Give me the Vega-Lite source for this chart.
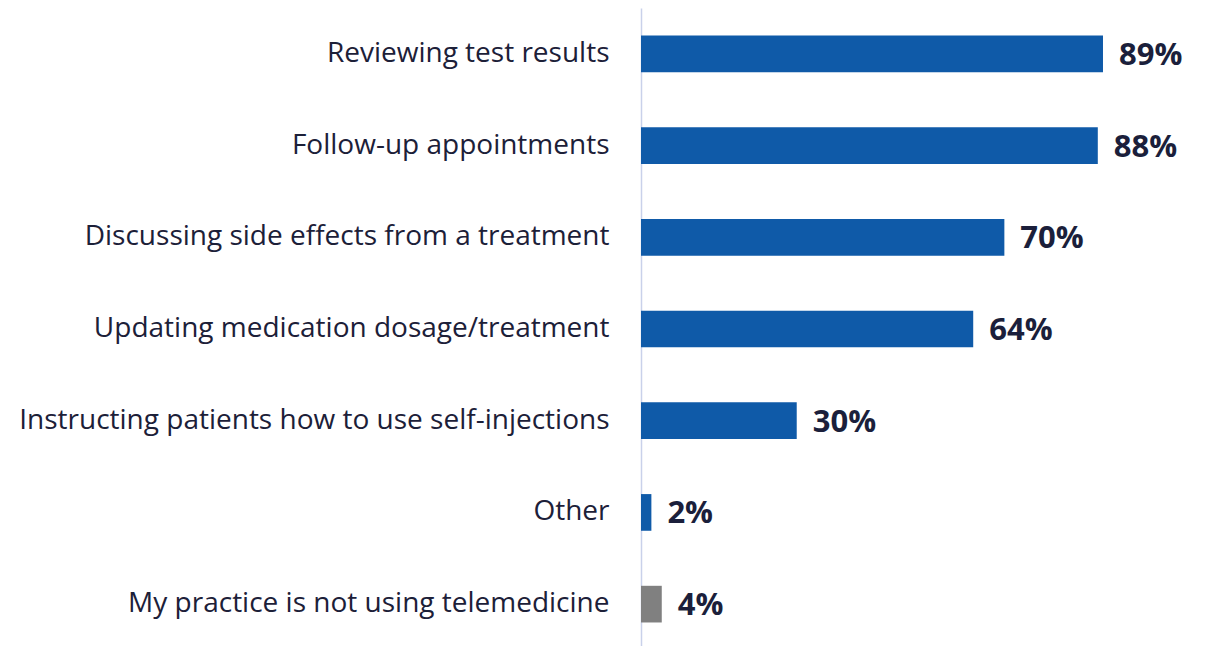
{
  "$schema": "https://vega.github.io/schema/vega-lite/v6.json",
  "width": 571,
  "height": 642,
  "autosize": {"type": "none"},
  "padding": {"left": 641, "top": 8, "right": 0, "bottom": 0},
  "background": "white",
  "config": {"view": {"stroke": null}},
  "data": {"values": [
    {"cat": "Reviewing test results", "value": 89, "grp": "a"},
    {"cat": "Follow-up appointments", "value": 88, "grp": "a"},
    {"cat": "Discussing side effects from a treatment", "value": 70, "grp": "a"},
    {"cat": "Updating medication dosage/treatment ", "value": 64, "grp": "a"},
    {"cat": "Instructing patients how to use self-injections", "value": 30, "grp": "a"},
    {"cat": "Other", "value": 2, "grp": "a"},
    {"cat": "My practice is not using telemedicine", "value": 4, "grp": "b"}
  ]},
  "encoding": {
    "y": {"field": "cat", "type": "nominal", "sort": null, "title": null,
      "scale": {"paddingInner": 0.6, "paddingOuter": 0.3},
      "axis": {"domainColor": "#c9d1ea", "domainWidth": 1.5, "ticks": false, "labelPadding": 32,
        "labelFont": "Open Sans", "labelFontSize": 28, "labelColor": "#1c2038", "labelLimit": 800}},
    "x": {"field": "value", "type": "quantitative", "scale": {"domain": [0, 110]}, "axis": null}
  },
  "layer": [
    {"mark": {"type": "bar"},
     "encoding": {"color": {"field": "grp", "type": "nominal", "legend": null,
       "scale": {"domain": ["a", "b"], "range": ["#0f5aa8", "#808080"]}}}},
    {"mark": {"type": "text", "align": "left", "baseline": "middle", "dx": 16, "dy": 2,
       "font": "Open Sans", "fontSize": 31, "fontWeight": "bold", "color": "#1b1f3b"},
     "encoding": {"text": {"value": {"expr": "datum.value + '%'"}}}}
  ]
}
